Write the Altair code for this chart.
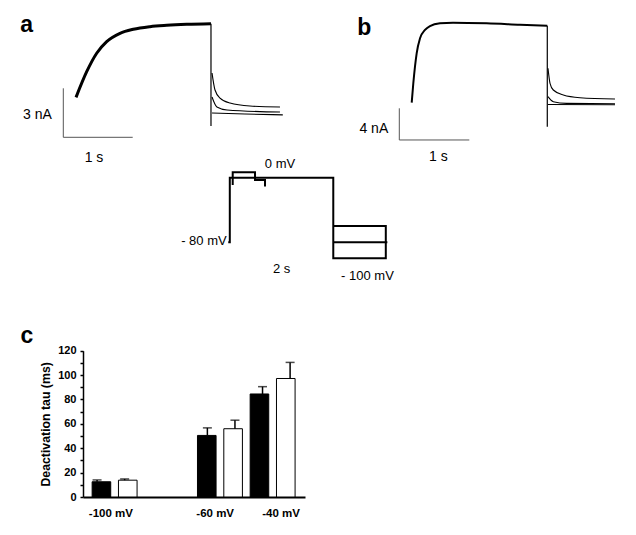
import altair as alt
import pandas as pd

FONT = "Liberation Sans"

# ---------------- panel a : current trace (t in s, I in nA) ----------------
a_step_t = [0.0, 0.154, 0.298, 0.442, 0.634, 0.826, 1.066, 1.307, 1.595, 1.945]
a_step_i = [1.08, 2.65, 3.78, 4.49, 5.00, 5.25, 5.41, 5.49, 5.55, 5.59]
a_tail_top_t = [1.96, 2.003, 2.075, 2.219, 2.507, 2.939]
a_tail_top_i = [2.57, 1.53, 1.04, 0.73, 0.55, 0.49]
a_tail_mid_t = [1.96, 2.03, 2.176, 2.939]
a_tail_mid_i = [1.10, 0.49, 0.31, 0.18]
a_tail_low_t = [1.96, 2.435, 2.98]
a_tail_low_i = [0.12, 0.06, 0.01]
a_drop = (1.945, 5.59, -0.67)          # step end: t, from, capacitive spike

# ---------------- panel b ----------------
b_step_t = [0.0, 0.023, 0.071, 0.119, 0.19, 0.261, 0.404, 0.59, 1.071, 1.547, 1.937]
b_step_i = [0.29, 2.74, 6.52, 8.41, 9.46, 9.96, 10.30, 10.38, 10.30, 10.13, 10.0]
b_tail_top_t = [1.947, 1.976, 2.023, 2.166, 2.404, 2.904]
b_tail_top_i = [4.63, 2.74, 1.89, 1.26, 0.92, 0.76]
b_tail_mid_t = [1.947, 2.023, 2.214, 2.904]
b_tail_mid_i = [1.05, 0.42, 0.21, 0.16]
b_tail_low_t = [1.947, 2.904]
b_tail_low_i = [0.06, 0.03]
b_drop = (1.937, 10.0, -2.74)

# ---------------- voltage protocol (t in s, V in mV) ----------------
prot_main_t = [-0.03, 0.0, 0.0, 1.99, 1.99, 3.0, 3.0, 1.99]
prot_main_v = [-80, -80, 0, 0, -100, -100, -60, -60]
prot_mid_t = [1.99, 3.03]
prot_mid_v = [-80, -80]
prot_pre_t = [0.056, 0.056, 0.485, 0.485, 0.677, 0.677]
prot_pre_v = [-9, 6.7, 6.7, -2.9, -2.9, -11]

# ---------------- panel c : deactivation tau ----------------
tail_potentials = ["-100 mV", "-60 mV", "-40 mV"]
tau_black = [12.5, 50.5, 84.5]
tau_black_err = [1.5, 6.2, 6.0]
tau_white = [13.8, 56.0, 97.2]
tau_white_err = [1.0, 7.0, 13.2]

# ---------------- layout (page pixels) ----------------
OX, OY = 83, 8


def PX(x):
    return x - OX


def PY(y):
    return y - OY


def scale(domain, r0, r1):
    return alt.Scale(domain=domain, range=[r0, r1], nice=False, zero=False)


def lines_df(series):
    rows = []
    for name, ts, vs in series:
        for k, (t, v) in enumerate(zip(ts, vs)):
            rows.append({"trace": name, "k": k, "t": t, "v": v})
    return pd.DataFrame(rows)


def trace_panel(step_t, step_i, tails, drop, xs, ys, step_w, bar, texts, letter):
    X = lambda f: alt.X(f, scale=xs, axis=None)
    Y = lambda f: alt.Y(f, scale=ys, axis=None)
    step = alt.Chart(lines_df([("step", step_t, step_i)])).mark_line(
        interpolate="monotone", strokeWidth=step_w, color="black"
    ).encode(x=X("t:Q"), y=Y("v:Q"))
    tail_df = lines_df(tails)
    tl = alt.Chart(tail_df).mark_line(
        interpolate="monotone", strokeWidth=1.1, color="black"
    ).encode(x=X("t:Q"), y=Y("v:Q"), detail="trace:N")
    dr = alt.Chart(pd.DataFrame([{"t": drop[0], "v1": drop[1], "v2": drop[2]}])).mark_rule(
        color="black", strokeWidth=1.2
    ).encode(x=X("t:Q"), y=Y("v1:Q"), y2="v2:Q")
    # scale bars
    t0, t1, v0, v1 = bar
    vb = alt.Chart(pd.DataFrame([{"t": t0, "v1": v0, "v2": v1}])).mark_rule(
        color="#555", strokeWidth=1
    ).encode(x=X("t:Q"), y=Y("v1:Q"), y2="v2:Q")
    hb = alt.Chart(pd.DataFrame([{"t1": t0, "t2": t1, "v": v1}])).mark_rule(
        color="#555", strokeWidth=1
    ).encode(x=X("t1:Q"), x2="t2:Q", y=Y("v:Q"))
    txt = alt.Chart(pd.DataFrame(texts)).mark_text(
        fontSize=14, color="black", baseline="alphabetic", align="center"
    ).encode(x=X("t:Q"), y=Y("v:Q"), text="s:N")
    let = alt.Chart(pd.DataFrame([letter])).mark_text(
        fontSize=23, fontWeight="bold", color="black", baseline="alphabetic", align="center"
    ).encode(x=X("t:Q"), y=Y("v:Q"), text="s:N")
    return alt.layer(tl, step, dr, vb, hb, txt, let)


# panel a scales: 69.4 px/s, 16.33 px/nA
xa = scale([0, 3], PX(76), PX(76 + 3 * 69.4))
ya = scale([0, 6], PY(115), PY(115 - 6 * 16.33))
panel_a = trace_panel(
    a_step_t, a_step_i,
    [("top", a_tail_top_t, a_tail_top_i), ("mid", a_tail_mid_t, a_tail_mid_i),
     ("low", a_tail_low_t, a_tail_low_i)],
    a_drop, xa, ya, 3.0,
    (-0.183, 0.817, 1.635, -1.366),
    [{"s": "3 nA", "t": -0.555, "v": -0.263}, {"s": "1 s", "t": 0.259, "v": -2.86}],
    {"s": "a", "t": -0.71, "v": 5.10},
)

# panel b scales: 70 px/s, 7.93 px/nA
xb = scale([0, 3], PX(411.7), PX(411.7 + 3 * 70))
yb = scale([0, 10], PY(105), PY(105 - 10 * 7.93))
panel_b = trace_panel(
    b_step_t, b_step_i,
    [("top", b_tail_top_t, b_tail_top_i), ("mid", b_tail_mid_t, b_tail_mid_i),
     ("low", b_tail_low_t, b_tail_low_i)],
    b_drop, xb, yb, 2.0,
    (-0.177, 0.823, -0.416, -4.41),
    [{"s": "4 nA", "t": -0.541, "v": -3.57}, {"s": "1 s", "t": 0.38, "v": -7.06}],
    {"s": "b", "t": -0.676, "v": 8.83},
)

# protocol scales: 52 px/s, 0.806 px/mV
xp = scale([0, 3], PX(229.8), PX(229.8 + 3 * 52))
yp = scale([-100, 0], PY(258.3), PY(177.7))
prot_df = lines_df([("main", prot_main_t, prot_main_v), ("mid", prot_mid_t, prot_mid_v),
                    ("pre", prot_pre_t, prot_pre_v)])
prot_lines = alt.Chart(prot_df).mark_line(strokeWidth=2, color="black", strokeJoin="miter").encode(
    x=alt.X("t:Q", scale=xp, axis=None),
    y=alt.Y("v:Q", scale=yp, axis=None),
    detail="trace:N",
    order="k:Q",
)
prot_txt_df = pd.DataFrame([
    {"s": "0 mV", "t": 0.965, "v": 11.7},
    {"s": "2 s", "t": 0.998, "v": -118.6},
    {"s": "- 100 mV", "t": 2.648, "v": -126.9},
])
prot_txt = alt.Chart(prot_txt_df).mark_text(fontSize=13, color="black", baseline="alphabetic").encode(
    x=alt.X("t:Q", scale=xp, axis=None), y=alt.Y("v:Q", scale=yp, axis=None), text="s:N")
prot_txt2 = alt.Chart(pd.DataFrame([{"s": "- 80 mV", "t": -0.06, "v": -83.5}])).mark_text(
    fontSize=13, color="black", baseline="alphabetic", align="right").encode(
    x=alt.X("t:Q", scale=xp, axis=None), y=alt.Y("v:Q", scale=yp, axis=None), text="s:N")
protocol = alt.layer(prot_lines, prot_txt, prot_txt2)

# bar chart
group_slot = [0, 4, 6]
rows = []
for g, lab in enumerate(tail_potentials):
    rows.append({"pot": lab, "cond": "black", "slot": group_slot[g], "tau": tau_black[g],
                 "hi": tau_black[g] + tau_black_err[g]})
    rows.append({"pot": lab, "cond": "white", "slot": group_slot[g] + 1, "tau": tau_white[g],
                 "hi": tau_white[g] + tau_white_err[g]})
bar_df = pd.DataFrame(rows)


def xc():
    return scale([-0.51, 7.54], PX(83), PX(305))


def yc():
    return scale([0, 120], PY(497), PY(350.7))


label_slots = [0.34, 4.3, 6.8]
x_axis = alt.Axis(orient="bottom", values=label_slots,
                  labelExpr="datum.value < 1 ? '-100 mV' : (datum.value < 5 ? '-60 mV' : '-40 mV')",
                  ticks=False, domainWidth=2, domainColor="black", labelFontWeight="bold",
                  labelFontSize=11.5, labelPadding=10, labelColor="black", title=None, grid=False,
                  labelFlush=False, labelOverlap=False)
y_axis = alt.Axis(orient="left", values=list(range(0, 130, 10)),
                  labelExpr="datum.value % 20 == 0 ? datum.label : ''",
                  tickSize=3, tickWidth=1.5, tickColor="black", domainWidth=1.5, domainColor="black",
                  labelFontWeight="bold", labelFontSize=11, labelPadding=4, labelColor="black",
                  title="Deactivation tau (ms)", titleFontSize=12.3, titleFontWeight="bold",
                  titleColor="black", titlePadding=5, grid=False, labelOverlap=False, labelFlush=False)

err = alt.Chart(bar_df).mark_rule(color="black", strokeWidth=1.5).encode(
    x=alt.X("slot:Q", scale=xc(), axis=None), y=alt.Y("tau:Q", scale=yc(), axis=None), y2="hi:Q")
cap = alt.Chart(bar_df).mark_tick(orient="horizontal", size=9, thickness=1.5, color="black").encode(
    x=alt.X("slot:Q", scale=xc(), axis=None), y=alt.Y("hi:Q", scale=yc(), axis=None))
bars = alt.Chart(bar_df).mark_bar(size=18.6, stroke="black", strokeWidth=1).encode(
    x=alt.X("slot:Q", scale=xc(), axis=x_axis),
    y=alt.Y("tau:Q", scale=yc(), axis=y_axis),
    fill=alt.Fill("cond:N", scale=alt.Scale(domain=["black", "white"], range=["black", "white"]),
                  legend=None),
)
c_letter = alt.Chart(pd.DataFrame([{"s": "c", "slot": -2.546, "tau": 126.3}])).mark_text(
    fontSize=23, fontWeight="bold", color="black", baseline="alphabetic", align="center").encode(
    x=alt.X("slot:Q", scale=xc(), axis=None), y=alt.Y("tau:Q", scale=yc(), axis=None), text="s:N")

chart = alt.layer(bars, err, cap, c_letter, panel_a, panel_b, protocol).resolve_scale(
    x="independent", y="independent"
).resolve_axis(x="independent", y="independent").properties(
    width=545, height=489,
    padding={"left": 75, "top": 0, "right": 0, "bottom": 30},
    autosize=alt.AutoSizeParams(type="none"),
).configure(font=FONT).configure_view(stroke=None)

chart.save("out.html", embed_options={"renderer": "svg", "actions": False})
